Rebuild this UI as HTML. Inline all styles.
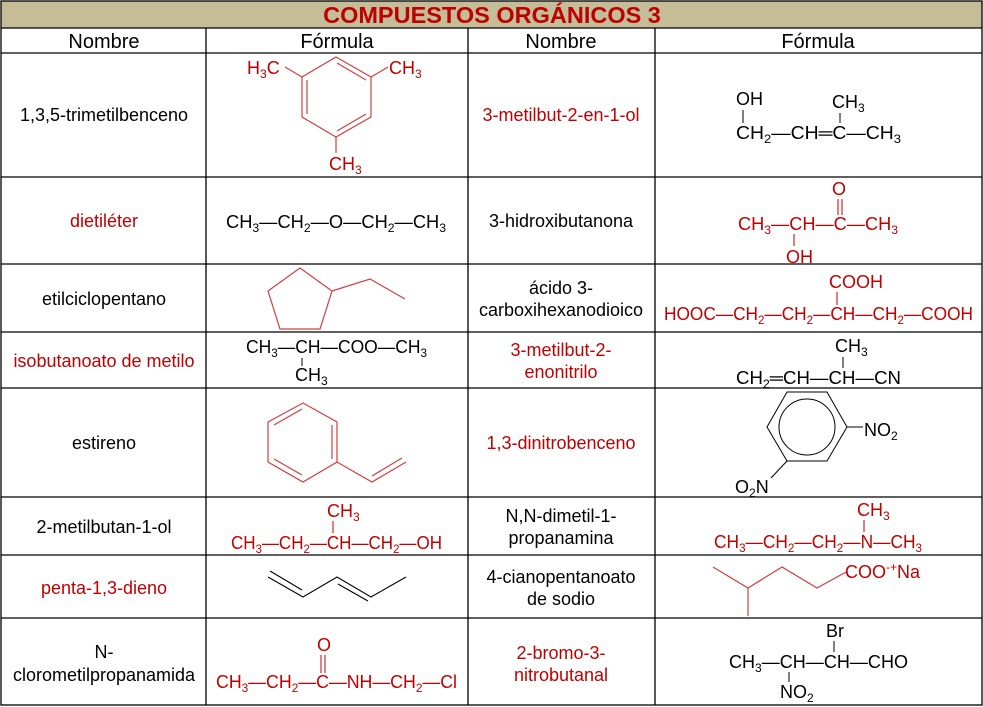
<!DOCTYPE html>
<html><head><meta charset="utf-8"><style>
html,body{margin:0;padding:0;background:#fff}
svg{display:block}
text{font-family:"Liberation Sans",Arial,sans-serif}
</style></head><body>
<svg width="983" height="707" viewBox="0 0 983 707" xmlns="http://www.w3.org/2000/svg">
<rect x="0" y="0" width="983" height="707" fill="#fff"/>
<rect x="1" y="1" width="981" height="27" fill="#c4bd97"/>
<g stroke="#000" stroke-width="1.3" fill="none">
<rect x="1" y="1" width="981" height="704"/>
<line x1="1" y1="28" x2="982" y2="28"/>
<line x1="1" y1="53" x2="982" y2="53"/>
<line x1="1" y1="177" x2="982" y2="177"/>
<line x1="1" y1="264" x2="982" y2="264"/>
<line x1="1" y1="332" x2="982" y2="332"/>
<line x1="1" y1="388" x2="982" y2="388"/>
<line x1="1" y1="497" x2="982" y2="497"/>
<line x1="1" y1="555" x2="982" y2="555"/>
<line x1="1" y1="618" x2="982" y2="618"/>
<line x1="206" y1="28" x2="206" y2="705"/>
<line x1="468" y1="28" x2="468" y2="705"/>
<line x1="655" y1="28" x2="655" y2="705"/>
</g>
<text x="492" y="23" text-anchor="middle" font-size="23.5" font-weight="bold" fill="#c00000">COMPUESTOS ORGÁNICOS 3</text>
<g font-size="20" text-anchor="middle" fill="#000">
<text x="104" y="48">Nombre</text><text x="337" y="48">Fórmula</text>
<text x="561" y="48">Nombre</text><text x="818" y="48">Fórmula</text>
</g>
<g font-size="18" text-anchor="middle">
<text x="104" y="121" fill="#000">1,3,5-trimetilbenceno</text>
<text x="104" y="227" fill="#c00000">dietiléter</text>
<text x="104" y="305" fill="#000">etilciclopentano</text>
<text x="104" y="367" fill="#c00000">isobutanoato de metilo</text>
<text x="104" y="449" fill="#000">estireno</text>
<text x="104" y="533" fill="#000">2-metilbutan-1-ol</text>
<text x="104" y="594" fill="#c00000">penta-1,3-dieno</text>
<text x="104" y="658" fill="#000">N-</text>
<text x="104" y="681" fill="#000">clorometilpropanamida</text>
<text x="561" y="121" fill="#c00000">3-metilbut-2-en-1-ol</text>
<text x="561" y="227" fill="#000">3-hidroxibutanona</text>
<text x="561" y="294" fill="#000">ácido 3-</text>
<text x="561" y="316" fill="#000">carboxihexanodioico</text>
<text x="561" y="356" fill="#c00000">3-metilbut-2-</text>
<text x="561" y="378" fill="#c00000">enonitrilo</text>
<text x="561" y="449" fill="#c00000">1,3-dinitrobenceno</text>
<text x="561" y="522" fill="#000">N,N-dimetil-1-</text>
<text x="561" y="544" fill="#000">propanamina</text>
<text x="561" y="583" fill="#000">4-cianopentanoato</text>
<text x="561" y="605" fill="#000">de sodio</text>
<text x="561" y="659" fill="#c00000">2-bromo-3-</text>
<text x="561" y="681" fill="#c00000">nitrobutanal</text>
</g>
<!-- mesitylene -->
<g stroke="#d04040" stroke-width="1.2" fill="none">
<polygon points="336,57 371,77 371,117 336,137 302,117 302,77"/>
<line x1="307" y1="80" x2="307" y2="114"/>
<line x1="337" y1="63" x2="366" y2="80"/>
<line x1="337" y1="131" x2="366" y2="114"/>
<line x1="302" y1="77" x2="285" y2="67"/>
<line x1="371" y1="77" x2="388" y2="67"/>
<line x1="336" y1="137" x2="336" y2="153"/>
</g>
<g font-size="18" fill="#c00000">
<text x="247" y="74">H<tspan dy="4" font-size="12">3</tspan><tspan dy="-4">C</tspan></text>
<text x="389" y="74">CH<tspan dy="4" font-size="12">3</tspan></text>
<text x="329" y="170">CH<tspan dy="4" font-size="12">3</tspan></text>
</g>
<!-- ether -->
<text x="226" y="228" font-size="18" fill="#000" textLength="220" lengthAdjust="spacingAndGlyphs">CH<tspan dy="4" font-size="12">3</tspan><tspan dy="-4">—CH</tspan><tspan dy="4" font-size="12">2</tspan><tspan dy="-4">—O—CH</tspan><tspan dy="4" font-size="12">2</tspan><tspan dy="-4">—CH</tspan><tspan dy="4" font-size="12">3</tspan></text>
<!-- ethylcyclopentane -->
<g stroke="#d04040" stroke-width="1.2" fill="none">
<polygon points="300,268 332,291 320,329 280,329 268,291"/>
<polyline points="332,291 370,279 405,299"/>
</g>
<!-- ester -->
<g font-size="18" fill="#000">
<text x="246" y="353" textLength="181" lengthAdjust="spacingAndGlyphs">CH<tspan dy="4" font-size="12">3</tspan><tspan dy="-4">—CH—COO—CH</tspan><tspan dy="4" font-size="12">3</tspan></text>
<text x="295" y="381">CH<tspan dy="4" font-size="12">3</tspan></text>
</g>
<line x1="302" y1="358" x2="302" y2="366" stroke="#000" stroke-width="1"/>
<!-- styrene -->
<g stroke="#d04040" stroke-width="1.2" fill="none">
<polygon points="303,403 337,422 337,462 303,482 268,462 268,422"/>
<line x1="274" y1="425" x2="302" y2="409"/>
<line x1="332" y1="425" x2="332" y2="459"/>
<line x1="274" y1="459" x2="302" y2="475"/>
<polyline points="337,462 372,482 406,462"/>
<line x1="372" y1="476" x2="402" y2="458"/>
</g>
<!-- 2-methylbutanol -->
<g font-size="18" fill="#c00000">
<text x="327" y="517">CH<tspan dy="4" font-size="12">3</tspan></text>
<text x="231" y="549" textLength="211" lengthAdjust="spacingAndGlyphs">CH<tspan dy="4" font-size="12">3</tspan><tspan dy="-4">—CH</tspan><tspan dy="4" font-size="12">2</tspan><tspan dy="-4">—CH—CH</tspan><tspan dy="4" font-size="12">2</tspan><tspan dy="-4">—OH</tspan></text>
</g>
<line x1="333" y1="521" x2="333" y2="533" stroke="#c00000" stroke-width="1"/>
<!-- pentadiene -->
<g stroke="#000" stroke-width="1.1" fill="none">
<polyline points="268,577 303,597 337,577 371,597 406,577"/>
<line x1="270" y1="571" x2="302" y2="590"/>
<line x1="338" y1="584" x2="368" y2="601"/>
</g>
<!-- amide -->
<g font-size="18" fill="#c00000">
<text x="317" y="651">O</text>
<text x="216" y="688" textLength="241" lengthAdjust="spacingAndGlyphs">CH<tspan dy="4" font-size="12">3</tspan><tspan dy="-4">—CH</tspan><tspan dy="4" font-size="12">2</tspan><tspan dy="-4">—C—NH—CH</tspan><tspan dy="4" font-size="12">2</tspan><tspan dy="-4">—Cl</tspan></text>
</g>
<g stroke="#c00000" stroke-width="1"><line x1="321" y1="655" x2="321" y2="673"/><line x1="325" y1="655" x2="325" y2="673"/></g>
<!-- right column 1 -->
<g font-size="18" fill="#000">
<text x="736" y="105">OH</text>
<text x="832" y="108">CH<tspan dy="4" font-size="12">3</tspan></text>
<text x="736" y="139" textLength="165" lengthAdjust="spacingAndGlyphs">CH<tspan dy="4" font-size="12">2</tspan><tspan dy="-4">—CH═C—CH</tspan><tspan dy="4" font-size="12">3</tspan></text>
</g>
<g stroke="#000" stroke-width="1"><line x1="743" y1="110" x2="743" y2="123"/><line x1="840" y1="113" x2="840" y2="123"/></g>
<!-- hydroxybutanone -->
<g font-size="18" fill="#c00000">
<text x="832" y="195">O</text>
<text x="738" y="230" textLength="160" lengthAdjust="spacingAndGlyphs">CH<tspan dy="4" font-size="12">3</tspan><tspan dy="-4">—CH—C—CH</tspan><tspan dy="4" font-size="12">3</tspan></text>
<text x="786" y="263">OH</text>
</g>
<g stroke="#c00000" stroke-width="1"><line x1="838" y1="199" x2="838" y2="215"/><line x1="842" y1="199" x2="842" y2="215"/><line x1="794" y1="234" x2="794" y2="246"/></g>
<!-- acid -->
<g font-size="18" fill="#c00000">
<text x="829" y="288">COOH</text>
<text x="664" y="320" textLength="309" lengthAdjust="spacingAndGlyphs">HOOC—CH<tspan dy="4" font-size="12">2</tspan><tspan dy="-4">—CH</tspan><tspan dy="4" font-size="12">2</tspan><tspan dy="-4">—CH—CH</tspan><tspan dy="4" font-size="12">2</tspan><tspan dy="-4">—COOH</tspan></text>
</g>
<line x1="837" y1="292" x2="837" y2="305" stroke="#c00000" stroke-width="1"/>
<!-- nitrile -->
<g font-size="18" fill="#000">
<text x="835" y="352">CH<tspan dy="4" font-size="12">3</tspan></text>
<text x="736" y="384" textLength="165" lengthAdjust="spacingAndGlyphs">CH<tspan dy="4" font-size="12">2</tspan><tspan dy="-4">═CH—CH—CN</tspan></text>
</g>
<line x1="843" y1="357" x2="843" y2="368" stroke="#000" stroke-width="1"/>
<!-- dinitrobenzene -->
<g stroke="#000" stroke-width="1" fill="none">
<polygon points="787,392 827,392 847,427 827,461 787,461 767,427"/>
<circle cx="807" cy="427" r="28"/>
<line x1="847" y1="427" x2="863" y2="427"/>
<line x1="787" y1="461" x2="771" y2="478"/>
</g>
<g font-size="18" fill="#000">
<text x="864" y="436">NO<tspan dy="4" font-size="12">2</tspan></text>
<text x="735" y="493">O<tspan dy="4" font-size="12">2</tspan><tspan dy="-4">N</tspan></text>
</g>
<!-- amine -->
<g font-size="18" fill="#c00000">
<text x="857" y="516">CH<tspan dy="4" font-size="12">3</tspan></text>
<text x="714" y="548" textLength="208" lengthAdjust="spacingAndGlyphs">CH<tspan dy="4" font-size="12">3</tspan><tspan dy="-4">—CH</tspan><tspan dy="4" font-size="12">2</tspan><tspan dy="-4">—CH</tspan><tspan dy="4" font-size="12">2</tspan><tspan dy="-4">—N—CH</tspan><tspan dy="4" font-size="12">3</tspan></text>
</g>
<line x1="864" y1="520" x2="864" y2="532" stroke="#c00000" stroke-width="1"/>
<!-- sodium salt -->
<g stroke="#d04040" stroke-width="1.2" fill="none">
<polyline points="713,567 748,588 782,567 817,588 846,572"/>
<line x1="748" y1="588" x2="748" y2="616"/>
</g>
<text x="845" y="578" font-size="18" fill="#c00000">COO<tspan dy="-7" font-size="12">-+</tspan><tspan dy="7">Na</tspan></text>
<!-- bromo -->
<g font-size="18" fill="#000">
<text x="826" y="637">Br</text>
<text x="729" y="668" textLength="179" lengthAdjust="spacingAndGlyphs">CH<tspan dy="4" font-size="12">3</tspan><tspan dy="-4">—CH—CH—CHO</tspan></text>
<text x="780" y="698">NO<tspan dy="4" font-size="12">2</tspan></text>
</g>
<g stroke="#000" stroke-width="1"><line x1="834" y1="641" x2="834" y2="652"/><line x1="789" y1="672" x2="789" y2="682"/></g>
</svg>
</body></html>
